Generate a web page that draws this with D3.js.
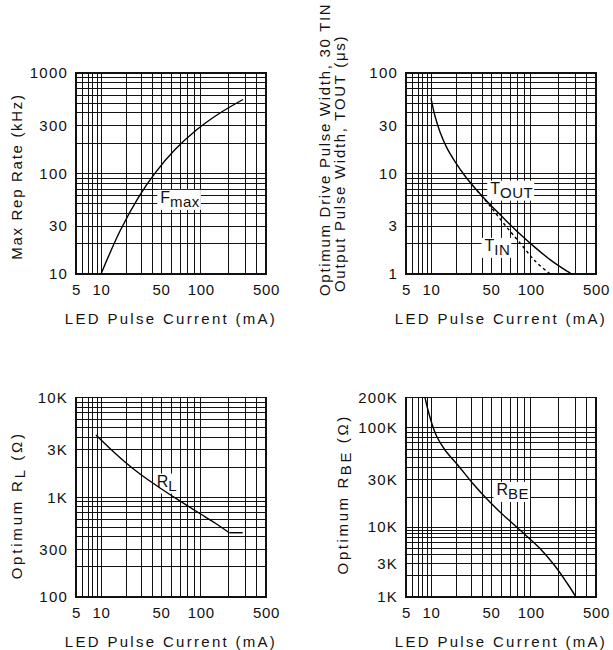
<!DOCTYPE html>
<html><head><meta charset="utf-8">
<script src="https://cdn.jsdelivr.net/npm/d3@7"></script>
<style>
body{margin:0;background:#fff}
text{font-family:"Liberation Sans",Arial,Helvetica,sans-serif;fill:#111}
</style>
</head><body>
<svg id="c" width="613" height="650"></svg>
<script>
// ---------- DATA ----------
// shared x axis (LED pulse current, mA)
const xAnchors = [5, 10, 50, 100, 500];
const xTickValues = [5, 10, 50, 100, 500];
const xGridValues = [6, 7, 8, 9, 10, 20, 30, 40, 50, 60, 70, 80, 90, 100, 200, 300, 400];
const xTitle = "LED Pulse Current (mA)";

// Panel 1: Max rep rate (kHz)
const fmaxCurrent = [10, 16.65, 27.0, 42.6, 63.9, 93.7, 161, 284];
const fmaxRate    = [10, 26.8, 57.0, 101, 173, 274, 400, 545];
const p1YTicks = [10, 30, 100, 300, 1000];
const p1YTickLabels = ["10", "30", "100", "300", "1000"];
const p1YGrid = [20, 30, 40, 50, 60, 70, 80, 90, 100, 200, 300, 400, 500, 600, 700, 800, 900];

// Panel 2: pulse widths (us)
const toutCurrent = [10, 11.13, 12.73, 15.36, 19.04, 24.9, 34.4, 48.7, 63.8, 82.9, 111.2, 161, 216, 275];
const toutWidth   = [56.0, 37.3, 25.9, 17.9, 13.15, 9.44, 6.77, 4.91, 3.49, 2.50, 1.84, 1.39, 1.15, 1.0];
const tinCurrent  = [34.4, 48.7, 63.8, 82.9, 111.2, 161];
const tinWidth    = [6.77, 4.75, 3.07, 2.04, 1.35, 1.0];
const p2YTicks = [1, 3, 10, 30, 100];
const p2YTickLabels = ["1", "3", "10", "30", "100"];
const p2YGrid = [2, 3, 4, 5, 6, 7, 8, 9, 10, 20, 30, 40, 50, 60, 70, 80, 90];

// Panel 3: optimum RL (ohm)
const rlCurrent = [8.7, 12.73, 19.04, 28.5, 48.7, 69.7, 98.4, 142.2, 202, 281.6];
const rlOhm     = [4207, 3083, 2255, 1709, 1239, 917, 687, 552, 441, 441];
const p3YTicks = [100, 300, 1000, 3000, 10000];
const p3YTickLabels = ["100", "300", "1K", "3K", "10K"];
const p3YGrid = [200, 300, 400, 500, 600, 700, 800, 900, 1000, 2000, 3000, 4000, 5000, 6000, 7000, 8000, 9000];

// Panel 4: optimum RBE (ohm)
const rbeCurrent = [8.47, 9.20, 10.27, 11.75, 14.56, 21.4, 31.1, 42.6, 58.5, 82.9, 125.8, 182, 244.7, 305.4];
const rbeOhm     = [200000, 149700, 108400, 80200, 59400, 40100, 27000, 20000, 14150, 9060, 4930, 2770, 1585, 1000];
const p4YAnchors = [1000, 10000, 200000];
const p4YTicks = [1000, 3000, 10000, 30000, 100000, 200000];
const p4YTickLabels = ["1K", "3K", "10K", "30K", "100K", "200K"];
const p4YGrid = [2000, 3000, 4000, 5000, 6000, 7000, 8000, 9000, 10000, 20000, 30000, 40000, 50000, 60000, 70000, 80000, 90000, 100000];

// ---------- LAYOUT ----------
const W = 190;
const xAnchorOffsets = [0, 25, 85, 124.7, 190];
const svg = d3.select("#c");
const FS = 15;

function drawPanel(cfg) {
  const {left, top, height} = cfg;
  const x = d3.scaleLog().domain(xAnchors).range(xAnchorOffsets.map(o => left + o));
  const y = cfg.yScale;
  const g = svg.append("g");

  // grid
  g.append("g").selectAll("line").data(xGridValues).join("line")
    .attr("x1", d => x(d)).attr("x2", d => x(d))
    .attr("y1", top).attr("y2", top + height)
    .attr("stroke", "#111").attr("stroke-width", 1).attr("shape-rendering", "crispEdges");
  g.append("g").selectAll("line").data(cfg.yGrid).join("line")
    .attr("y1", d => y(d)).attr("y2", d => y(d))
    .attr("x1", left).attr("x2", left + W)
    .attr("stroke", "#111").attr("stroke-width", 1).attr("shape-rendering", "crispEdges");
  g.append("rect").attr("x", left).attr("y", top).attr("width", W).attr("height", height)
    .attr("fill", "none").attr("stroke", "#111").attr("stroke-width", 1.2).attr("shape-rendering", "crispEdges");

  // curve labels with white boxes
  (cfg.labels || []).forEach(l => {
    const lg = g.append("g");
    const t = lg.append("text").attr("x", x(l.at[0])).attr("y", y(l.at[1]))
      .attr("font-size", FS);
    t.append("tspan").attr("font-size", 16).text(l.main);
    t.append("tspan").attr("dy", 4).attr("letter-spacing", 0.5).text(l.sub);
    const bb = t.node().getBBox();
    lg.insert("rect", "text").attr("x", bb.x - 3).attr("y", bb.y + 1)
      .attr("width", bb.width + 4).attr("height", bb.height - 1).attr("fill", "#fff");
  });

  // curves
  cfg.series.forEach(s => {
    const line = d3.line().x(d => x(d[0])).y(d => y(d[1]))
      .curve(s.curve || d3.curveCatmullRom.alpha(0.5));
    g.append("path").attr("d", line(d3.zip(s.x, s.y)))
      .attr("fill", "none").attr("stroke", "#000").attr("stroke-width", 1.4)
      .attr("stroke-dasharray", s.dash || null);
  });

  // axes
  const xa = g.append("g").attr("transform", `translate(0,${top + height})`)
    .call(d3.axisBottom(x).tickValues(xTickValues).tickFormat(d3.format("d")).tickSize(0).tickPadding(10));
  xa.select(".domain").remove();
  xa.attr("font-size", FS).attr("font-family", null);
  xa.selectAll("text").attr("fill", "#111").attr("letter-spacing", 0.6);

  const ya = g.append("g").attr("transform", `translate(${left},0)`)
    .call(d3.axisLeft(y).tickValues(cfg.yTicks).tickFormat((d, i) => cfg.yTickLabels[i]).tickSize(0).tickPadding(8));
  ya.select(".domain").remove();
  ya.attr("font-size", FS).attr("font-family", null);
  ya.selectAll("text").attr("fill", "#111").attr("letter-spacing", 1.2);

  // x title
  g.append("text").attr("x", left + W / 2).attr("y", top + height + 50)
    .attr("text-anchor", "middle").attr("font-size", FS).attr("letter-spacing", 2.3)
    .text(xTitle);

  // y title
  cfg.yTitle(g, top + height / 2);
}

function rotTitle(g, bx, cy, parts, anchor, ls) {
  const t = g.append("text").attr("transform", `translate(${bx},${cy}) rotate(-90)`)
    .attr("text-anchor", anchor || "middle").attr("font-size", FS).attr("letter-spacing", ls);
  parts.forEach(p => {
    const s = t.append("tspan").text(p.t);
    if (p.dy) s.attr("dy", p.dy);
  });
  return t;
}

// Panel 1
drawPanel({
  left: 76, top: 73, height: 201,
  yScale: d3.scaleLog().domain([10, 1000]).range([274, 73]),
  yGrid: p1YGrid, yTicks: p1YTicks, yTickLabels: p1YTickLabels,
  series: [{x: fmaxCurrent, y: fmaxRate}],
  labels: [{main: "F", sub: "max", at: [49, 51]}],
  yTitle: (g, cy) => rotTitle(g, 21.5, cy + 3, [{t: "Max Rep Rate (kHz)"}], "middle", 1.7)
});

// Panel 2
drawPanel({
  left: 406, top: 73, height: 201,
  yScale: d3.scaleLog().domain([1, 100]).range([274, 73]),
  yGrid: p2YGrid, yTicks: p2YTicks, yTickLabels: p2YTickLabels,
  series: [{x: toutCurrent, y: toutWidth}, {x: tinCurrent, y: tinWidth, dash: "3,3"}],
  labels: [{main: "T", sub: "OUT", at: [49, 6.3]}, {main: "T", sub: "IN", at: [42, 1.7]}],
  yTitle: (g, cy) => {
    rotTitle(g, 329.5, 296, [{t: "Optimum Drive Pulse Width, 30 TIN"}], "start", 1.7);
    rotTitle(g, 345, 292, [{t: "Output Pulse Width, TOUT (μs)"}], "start", 1.7);
  }
});

// Panel 3
drawPanel({
  left: 76, top: 397.5, height: 199.5,
  yScale: d3.scaleLog().domain([100, 10000]).range([597, 397.5]),
  yGrid: p3YGrid, yTicks: p3YTicks, yTickLabels: p3YTickLabels,
  series: [{x: rlCurrent.slice(0, 9), y: rlOhm.slice(0, 9)},
           {x: rlCurrent.slice(8), y: rlOhm.slice(8), curve: d3.curveLinear}],
  labels: [{main: "R", sub: "L", at: [44.6, 1280]}],
  yTitle: (g, cy) => rotTitle(g, 22, cy + 8, [{t: "Optimum R"}, {t: "L", dy: 3}, {t: " (Ω)", dy: -3}], "middle", 2.8)
});

// Panel 4
drawPanel({
  left: 406, top: 397.5, height: 199.5,
  yScale: d3.scaleLog().domain(p4YAnchors).range([597, 527, 397.5]),
  yGrid: p4YGrid, yTicks: p4YTicks, yTickLabels: p4YTickLabels,
  series: [{x: rbeCurrent, y: rbeOhm}],
  labels: [{main: "R", sub: "BE", at: [55, 21000]}],
  yTitle: (g, cy) => rotTitle(g, 348, cy - 3, [{t: "Optimum R"}, {t: "BE", dy: 3}, {t: " (Ω)", dy: -3}], "middle", 2.6)
});
</script>
</body></html>
